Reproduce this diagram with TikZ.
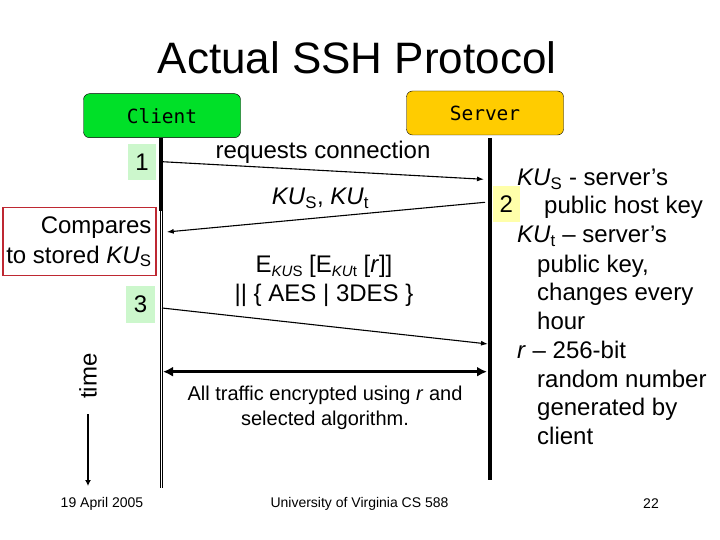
\documentclass[tikz,border=0pt]{standalone}
\usepackage{fontspec}
\setmainfont{Liberation Sans}
\setmonofont{DejaVu Sans Mono}
\usetikzlibrary{arrows.meta,positioning}
\definecolor{clientgreen}{RGB}{0,224,40}
\definecolor{servergold}{RGB}{255,204,0}
\definecolor{stepgreen}{RGB}{204,247,204}
\definecolor{stepyellow}{RGB}{255,255,170}
\definecolor{boxred}{RGB}{190,40,50}
\newcommand{\keysub}[1]{\raisebox{-4pt}{\fontsize{15}{15}\selectfont #1}}
\tikzset{
    actor/.style={draw=black,rounded corners=6pt,minimum width=157pt,minimum height=44pt,font=\ttfamily\fontsize{19.5}{22}\selectfont},
    stepnum/.style={minimum width=28pt,minimum height=36pt,inner sep=0pt,font=\fontsize{24}{28}\selectfont},
    msg/.style={font=\fontsize{24}{29}\selectfont,align=center,inner sep=0pt},
    small/.style={font=\fontsize{20}{24.5}\selectfont,align=center,inner sep=0pt},
    foot/.style={font=\fontsize{14}{16}\selectfont,inner sep=0pt},
    note/.style={font=\fontsize{24}{28}\selectfont,anchor=base west,inner sep=0pt},
    wire/.style={line width=1.1pt,-{Latex[length=7pt,width=5pt]}},
}
\begin{document}
\begin{tikzpicture}[x=1pt,y=1pt]
    \useasboundingbox (0,0) rectangle (720,-540);
    \fill[white] (0,0) rectangle (720,-540);
    % title
    \node[font=\fontsize{44}{50}\selectfont,inner sep=0pt] (title) at (357,-58) {Actual SSH Protocol};
    % actors
    \node[actor,fill=clientgreen] (client) at (162,-115.7) {Client};
    \node[actor,fill=servergold] (server) at (485,-113) {Server};
    % life lines
    \coordinate (ctop) at (161,-138);
    \coordinate (cmid) at (161,-211);
    \coordinate (dtop) at (161.7,-211);
    \coordinate (dend) at (161.7,-488);
    \coordinate (stop) at (490,-138);
    \coordinate (send) at (490,-480);
    \draw[line width=3.4pt] (ctop) -- (cmid);
    \draw[line width=3.4pt] (dtop) -- (dend);
    \draw[line width=1.1pt,white] (dtop) -- (dend);
    \draw[line width=4pt] (stop) -- (send);
    % steps
    \node[stepnum,fill=stepgreen] (one) at (142,-162) {1};
    \node[stepnum,fill=stepgreen,minimum width=29pt,minimum height=37pt] (three) at (140.5,-304.5) {3};
    \node[stepnum,fill=stepyellow,minimum width=27pt] (two) at (506.4,-204) {2};
    \node[draw=boxred,line width=1.5pt,minimum width=153pt,minimum height=68pt,inner sep=0pt] (cmp) at (79.7,-241.3) {};
    \node[msg,anchor=base east] (cmpa) at (151.7,-233.5) {Compares};
    \node[msg,anchor=base east] (cmpb) at (151.7,-263) {to stored \textit{KU}\textsubscript{S}};
    % messages
    \coordinate (m1a) at (162,-161.7);
    \coordinate (m1b) at (484,-179.3);
    \coordinate (m2a) at (485,-202.3);
    \coordinate (m2b) at (166.7,-232);
    \coordinate (m3a) at (162,-308);
    \coordinate (m3b) at (488,-344);
    \coordinate (m4a) at (163,-371.7);
    \coordinate (m4b) at (487,-371.7);
    \draw[wire] (m1a) -- (m1b);
    \draw[wire] (m2a) -- (m2b);
    \draw[wire] (m3a) -- (m3b);
    \draw[line width=3.5pt,{Latex[length=10pt,width=10pt]}-{Latex[length=10pt,width=10pt]}] (m4a) -- (m4b);
    \node[msg] (lbl1) at (323,-152.5) {requests connection};
    \node[msg,anchor=base] (lbl2) at (320.5,-205) {\textit{KU}\textsubscript{S}, \textit{KU}\textsubscript{t}};
    \node[msg] (lbl3) at (324,-281) {E\keysub{\textit{KU}S} [E\keysub{\textit{KU}t} [\textit{r}]]\\|| \{ AES | 3DES \}};
    \node[small] (lbl4) at (325,-408) {All traffic encrypted using \textit{r} and\\selected algorithm.};
    % notes
    \node[note] (n1) at (517,-186) {\textit{KU}\textsubscript{S} - server’s};
    \node[note] (n2) at (544,-214) {public host key};
    \node[note] (n3) at (517,-243) {\textit{KU}\textsubscript{t} – server’s};
    \node[note] (n4) at (537,-272) {public key,};
    \node[note] (n5) at (537,-300) {changes every};
    \node[note] (n6) at (537,-329) {hour};
    \node[note] (n7) at (517,-358) {\textit{r} – 256-bit};
    \node[note] (n8) at (537,-387) {random number};
    \node[note] (n9) at (537,-415) {generated by};
    \node[note] (n10) at (537,-444) {client};
    % time axis
    \node[font=\fontsize{24}{28}\selectfont,rotate=90,inner sep=0pt] (time) at (88,-376) {time};
    \coordinate (tstart) at (88,-414);
    \coordinate (tend) at (88,-486);
    \draw[line width=1.3pt,-{Latex[length=6pt,width=6pt]}] (tstart) -- (tend);
    % footer
    \node[foot] (date) at (102,-504) {19 April 2005};
    \node[foot] (course) at (359.5,-504) {University of Virginia CS 588};
    \node[foot] (page) at (651,-504) {22};
\end{tikzpicture}
\end{document}
